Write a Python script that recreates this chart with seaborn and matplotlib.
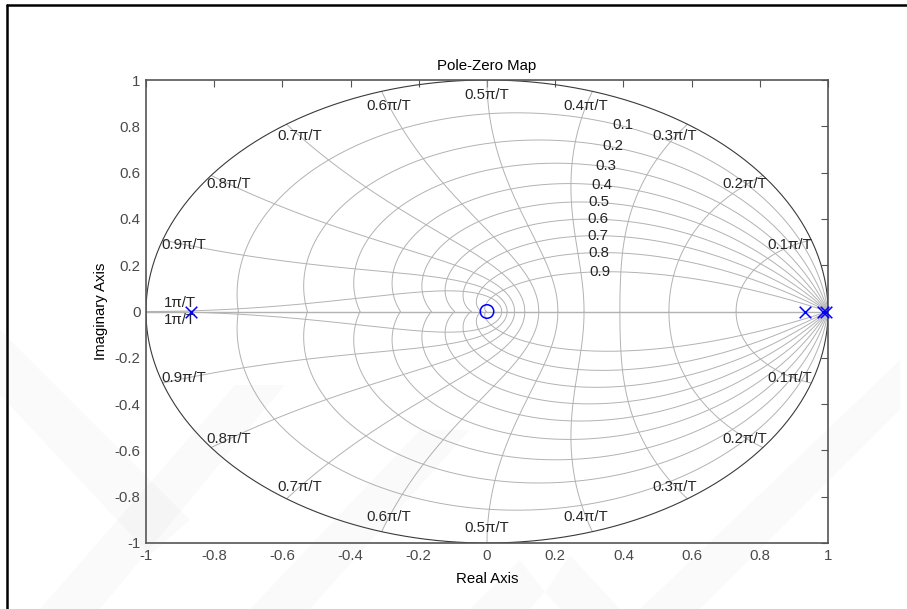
import numpy as np
import matplotlib
matplotlib.use("Agg")
import matplotlib.pyplot as plt
import seaborn as sns
import pandas as pd
from matplotlib.lines import Line2D
from matplotlib.patches import Polygon

# Poles and zeros of the discrete-time system
pole_re = [-0.868, 0.932, 0.985, 0.993]
pole_im = [0.0, 0.0, 0.0, 0.0]
zero_re = [0.0]
zero_im = [0.0]

# z-plane grid: damping ratios and natural frequencies (fractions of pi/T)
zeta_values = [0.1, 0.2, 0.3, 0.4, 0.5, 0.6, 0.7, 0.8, 0.9]
zeta_labels = ["0.1", "0.2", "0.3", "0.4", "0.5", "0.6", "0.7", "0.8", "0.9"]
wn_fracs = [0.1, 0.2, 0.3, 0.4, 0.5, 0.6, 0.7, 0.8, 0.9, 1.0]
wn_labels = ["0.1π/T", "0.2π/T", "0.3π/T", "0.4π/T", "0.5π/T",
             "0.6π/T", "0.7π/T", "0.8π/T", "0.9π/T", "1π/T"]

x_ticks = [-1, -0.8, -0.6, -0.4, -0.2, 0, 0.2, 0.4, 0.6, 0.8, 1]
x_tick_labels = ["-1", "-0.8", "-0.6", "-0.4", "-0.2", "0", "0.2", "0.4", "0.6", "0.8", "1"]
y_ticks = [-1, -0.8, -0.6, -0.4, -0.2, 0, 0.2, 0.4, 0.6, 0.8, 1]
y_tick_labels = ["-1", "-0.8", "-0.6", "-0.4", "-0.2", "0", "0.2", "0.4", "0.6", "0.8", "1"]

sns.set_theme(style="white")
plt.rcParams["font.family"] = ["Liberation Sans", "DejaVu Sans"]

W, H = 907, 609
fig = plt.figure(figsize=(W / 100, H / 100), dpi=100)
fig.patch.set_facecolor("white")
ax = fig.add_axes([146 / W, 1 - 543 / H, 682 / W, 463 / H])
ax.set_facecolor("none")

grid_color = "#b2b2b2"
grid_lw = 0.7
text_color = "#262626"
fs = 10.8

# constant-damping curves
for z in zeta_values:
    wT = np.linspace(0, np.pi / np.sqrt(1 - z ** 2), 500)
    p = np.exp(wT * (-z + 1j * np.sqrt(1 - z ** 2)))
    ax.plot(p.real, p.imag, color=grid_color, lw=grid_lw, zorder=1)
    ax.plot(p.real, -p.imag, color=grid_color, lw=grid_lw, zorder=1)

# constant natural-frequency curves
zz = np.linspace(0, 1, 300)
for f in wn_fracs:
    p = np.exp(f * np.pi * (-zz + 1j * np.sqrt(1 - zz ** 2)))
    ax.plot(p.real, p.imag, color=grid_color, lw=grid_lw, zorder=1)
    ax.plot(p.real, -p.imag, color=grid_color, lw=grid_lw, zorder=1)

# real axis and unit circle
ax.plot([-1, 1], [0, 0], color=grid_color, lw=1.0, zorder=1)
th = np.linspace(0, 2 * np.pi, 600)
ax.plot(np.cos(th), np.sin(th), color="#3a3a3a", lw=0.8, zorder=2)

# damping labels
for z, lab in zip(zeta_values, zeta_labels):
    wT = 1.13
    p = np.exp(wT * (-z + 1j * np.sqrt(1 - z ** 2)))
    ax.text(p.real + 0.012, p.imag, lab, ha="center", va="center",
            fontsize=fs, color=text_color, zorder=3)

# natural frequency labels
for f, lab in zip(wn_fracs, wn_labels):
    ang = f * np.pi
    if f < 1.0:
        r = 0.935
        ax.text(r * np.cos(ang), r * np.sin(ang), lab, ha="center", va="center",
                fontsize=fs, color=text_color, zorder=3)
        ax.text(r * np.cos(ang), -r * np.sin(ang), lab, ha="center", va="center",
                fontsize=fs, color=text_color, zorder=3)
    else:
        ax.text(np.cos(ang) * 0.9, 0.005, lab, ha="center", va="bottom",
                fontsize=fs, color=text_color, zorder=3)
        ax.text(np.cos(ang) * 0.9, -0.005, lab, ha="center", va="top",
                fontsize=fs, color=text_color, zorder=3)

# poles and zeros
poles = pd.DataFrame({"re": pole_re, "im": pole_im})
zeros = pd.DataFrame({"re": zero_re, "im": zero_im})
sns.scatterplot(data=poles, x="re", y="im", marker="x", s=70, color="#0000ff",
                linewidth=1.1, ax=ax, zorder=5, clip_on=False)
sns.scatterplot(data=zeros, x="re", y="im", marker="o", s=95, facecolor="none",
                edgecolor="#0000ff", linewidth=1.1, ax=ax, zorder=5)

ax.set_xlim(-1, 1)
ax.set_ylim(-1, 1)
ax.set_xticks(x_ticks)
ax.set_xticklabels(x_tick_labels)
ax.set_yticks(y_ticks)
ax.set_yticklabels(y_tick_labels)
ax.tick_params(direction="in", length=5, width=0.8, top=True, right=True,
               colors="#555555", labelcolor="#4a4a4a", labelsize=fs, pad=4)
for sp in ax.spines.values():
    sp.set_color("#555555")
    sp.set_linewidth(1.2)
    sp.set_visible(True)

ax.set_title("Pole-Zero Map", fontsize=fs, color="black", pad=7)
ax.set_xlabel("Real Axis", fontsize=fs, color="black", labelpad=7)
ax.set_ylabel("Imaginary Axis", fontsize=fs, color="black", labelpad=5)

# page frame
fig.add_artist(Line2D([7 / W, 7 / W], [0, 1 - 5 / H], color="black", lw=1.8,
                      transform=fig.transFigure))
fig.add_artist(Line2D([7 / W, 1], [1 - 5 / H, 1 - 5 / H], color="black", lw=1.8,
                      transform=fig.transFigure))

# faint background emblem
bands = [
    [(0, 330), (0, 395), (150, 555), (190, 520)],
    [(40, 609), (100, 609), (285, 385), (235, 385)],
    [(250, 609), (310, 609), (470, 430), (420, 430)],
    [(470, 609), (530, 609), (545, 592), (520, 560)],
    [(545, 592), (560, 609), (620, 609), (570, 555)],
    [(640, 609), (700, 609), (900, 410), (900, 360)],
]
for b in bands:
    pts = [(x / W, 1 - y / H) for x, y in b]
    fig.add_artist(Polygon(pts, closed=True, transform=fig.transFigure,
                           facecolor="#808080", edgecolor="none", alpha=0.035,
                           zorder=10))

fig.savefig("out.png", dpi=100)
